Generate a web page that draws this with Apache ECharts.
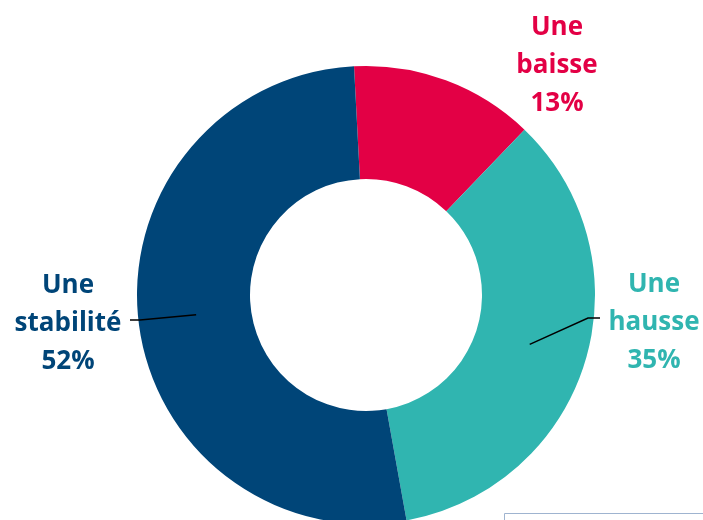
<!DOCTYPE html>
<html>
<head>
<meta charset="utf-8">
<script src="https://cdn.jsdelivr.net/npm/echarts@6/dist/echarts.min.js"></script>
<style>
    html, body { margin: 0; padding: 0; background: #fff; }
    #main { width: 703px; height: 520px; }
</style>
</head>
<body>
<div id="main"></div>
<script>
var categories = ['Une baisse', 'Une hausse', 'Une stabilité'];
var values = [13, 35, 52];
var colors = ['#E30045', '#30B5B0', '#004578'];

// position du centre de chaque étiquette, et coude de la ligne de rappel
var labelPos = [[557, 66], [654, 323], [68, 324]];
var linePos = [null, [[588, 318], [600, 318]], [[140, 320], [130, 320]]];

var cx = 366, cy = 295, r0 = 116, r1 = 229;
var startAngle = 93;
var lineStart = 171;

// angle milieu de chaque part (degrés)
function midAngle(idx) {
    var total = 0;
    for (var i = 0; i < values.length; i++) total += values[i];
    var acc = 0;
    for (var i = 0; i < idx; i++) acc += values[i];
    return startAngle - (acc + values[idx] / 2) / total * 360;
}

function render() {
    var myChart = echarts.init(document.getElementById('main'));

    var data = [];
    var labelData = [];
    for (var i = 0; i < categories.length; i++) {
        data.push({
            name: categories[i],
            value: values[i],
            itemStyle: { color: colors[i] }
        });
        labelData.push({
            name: categories[i],
            value: values[i],
            label: { color: colors[i] },
            labelLine: { show: linePos[i] != null }
        });
    }

    var option = {
        animation: false,
        series: [
            {
                type: 'pie',
                center: [cx, cy],
                radius: [r0, r1],
                startAngle: startAngle,
                clockwise: true,
                emphasis: { disabled: true },
                label: { show: false },
                labelLine: { show: false },
                data: data
            },
            {
                // série transparente par-dessus, pour les étiquettes et lignes
                type: 'pie',
                z: 5,
                silent: true,
                center: [cx, cy],
                radius: [r0, r1],
                startAngle: startAngle,
                clockwise: true,
                emphasis: { disabled: true },
                itemStyle: { color: 'rgba(0,0,0,0)' },
                label: {
                    show: true,
                    position: 'outside',
                    overflow: 'none',
                    fontFamily: 'Open Sans',
                    fontWeight: 'bold',
                    fontSize: 26,
                    lineHeight: 38,
                    align: 'center',
                    formatter: function (p) {
                        return p.name.replace(' ', '\n') + '\n' + p.value + '%';
                    }
                },
                labelLine: {
                    show: true,
                    length: 20,
                    length2: 10,
                    lineStyle: { color: '#000', width: 1.5 }
                },
                labelLayout: function (p) {
                    var i = p.dataIndex;
                    var res = {
                        x: labelPos[i][0],
                        y: labelPos[i][1],
                        align: 'center',
                        verticalAlign: 'middle'
                    };
                    if (linePos[i]) {
                        // ligne partant de l'intérieur de l'anneau
                        var a = midAngle(i) * Math.PI / 180;
                        var sx = cx + lineStart * Math.cos(a);
                        var sy = cy - lineStart * Math.sin(a);
                        res.labelLinePoints = [[sx, sy], linePos[i][0], linePos[i][1]];
                    }
                    return res;
                },
                data: labelData
            }
        ],
        graphic: [
            {
                type: 'rect',
                shape: { x: 504.5, y: 513.5, width: 230, height: 30 },
                style: { fill: 'none', stroke: '#9FB4D0', lineWidth: 1 },
                silent: true
            }
        ]
    };

    myChart.setOption(option);
}

render();
</script>
</body>
</html>
